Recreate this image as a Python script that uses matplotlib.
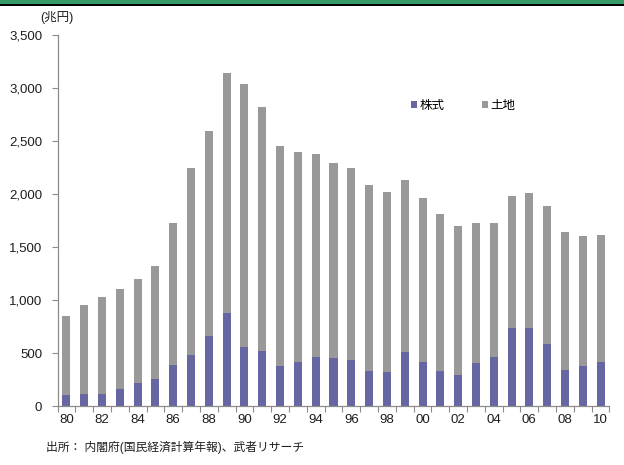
import matplotlib
matplotlib.use("Agg")
import matplotlib.pyplot as plt
import matplotlib.patches as mpatches
import numpy as np

plt.rcParams["font.family"] = ["Liberation Sans", "Noto Sans CJK JP"]

# Household asset values, trillion yen (1980-2010)
years = list(range(1980, 2011))
year_labels = [f"{y % 100:02d}" if y % 2 == 0 else "" for y in years]
stocks = [104, 116, 116, 163, 214, 258, 390, 484, 663, 877,
          557, 519, 380, 415, 462, 450, 437, 330, 318, 509,
          412, 330, 295, 403, 462, 736, 736, 582, 342, 380, 412]
land = [745, 839, 912, 938, 981, 1066, 1339, 1758, 1934, 2267,
        2481, 2305, 2073, 1978, 1918, 1840, 1805, 1758, 1698, 1626,
        1547, 1484, 1400, 1326, 1267, 1245, 1271, 1305, 1297, 1221, 1201]
series_names = ["株式", "土地"]
y_ticks = [0, 500, 1000, 1500, 2000, 2500, 3000, 3500]

PURPLE = "#6666a3"
GREY = "#999999"
AXIS = "#8c8c8c"
INK = "#1e1e1e"

fig = plt.figure(figsize=(6.24, 4.65), dpi=100)

# header band: green strip over a thin black rule
fig.patches.append(mpatches.Rectangle((0, 1 - 4 / 465), 1, 4 / 465,
                                      transform=fig.transFigure,
                                      facecolor="#349b66", edgecolor="none"))
fig.patches.append(mpatches.Rectangle((0, 1 - 6.5 / 465), 1, 2.5 / 465,
                                      transform=fig.transFigure,
                                      facecolor="black", edgecolor="none"))

ax = fig.add_axes([57.5 / 624, 1 - 406 / 465, 552 / 624, 371 / 465])

x = np.arange(len(years))
w = 0.45
ax.bar(x, stocks, w, color=PURPLE, label=series_names[0], zorder=2)
ax.bar(x, land, w, bottom=stocks, color=GREY, label=series_names[1], zorder=2)

ax.set_xlim(-0.5, len(years) - 0.5)
ax.set_ylim(0, 3500)
ax.set_yticks(y_ticks)
ax.set_yticklabels([f"{v:,}" for v in y_ticks], fontsize=9.5, color=INK)
ax.tick_params(axis="y", length=4, width=0.8, color=AXIS, pad=7)

ax.set_xticks(x)
ax.set_xticklabels(year_labels, fontsize=9.5, color=INK)
ax.tick_params(axis="x", which="major", length=0, pad=6)
ax.set_xticks(np.arange(-0.5, len(years)), minor=True)
ax.tick_params(axis="x", which="minor", length=4, width=0.8, color=AXIS)

for side in ("top", "right"):
    ax.spines[side].set_visible(False)
for side in ("left", "bottom"):
    ax.spines[side].set_color(AXIS)
    ax.spines[side].set_linewidth(0.9)

ax.legend(ncol=2, loc="center", bbox_to_anchor=(0.735, 0.809),
          frameon=False, fontsize=9, handlelength=0.5,
          handleheight=0.5, handletextpad=0.2, columnspacing=3.0)

fig.text(40 / 624, 1 - 18 / 465, "(兆円)", fontsize=9, ha="left",
         va="center", color=INK)
fig.text(46 / 624, 1 - 447 / 465, "出所： 内閣府(国民経済計算年報)、武者リサーチ",
         fontsize=8.5, ha="left", va="center", color=INK)

fig.savefig("out.png", dpi=100)
